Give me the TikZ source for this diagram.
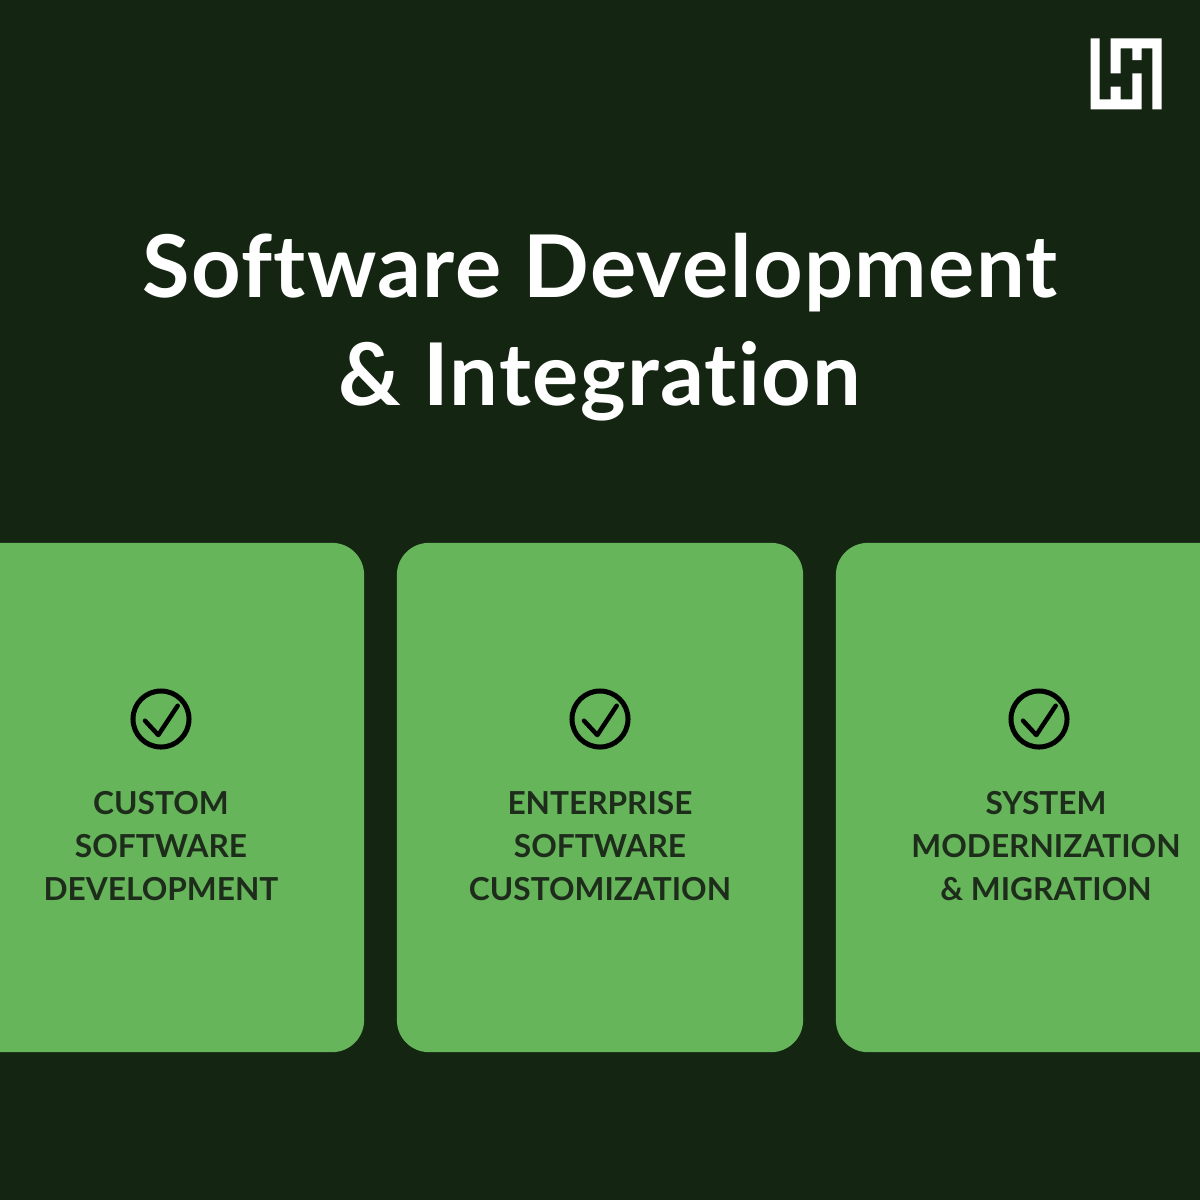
\documentclass[tikz,border=0pt]{standalone}
\usepackage{fontspec}
\setmainfont[Ligatures=NoCommon]{Lato}
\newfontfamily\titlefont[Ligatures=NoCommon,LetterSpace=1.6]{Lato}
\definecolor{bgdark}{HTML}{142612}
\definecolor{cardgreen}{HTML}{66B55A}
\definecolor{labeldark}{HTML}{1E2D1B}
\tikzset{
  card/.style={draw=none, fill=cardgreen, rounded corners=0.32cm, minimum width=4.06cm, minimum height=5.09cm, inner sep=0pt},
  cardlabel/.style={text=labeldark, align=center, font=\fontsize{9.0}{12.1}\selectfont\bfseries},
  titletext/.style={text=white, align=center, font=\titlefont\fontsize{24.6}{30.7}\selectfont\bfseries},
  ring/.style={draw=black, circle, line width=0.05cm, minimum size=0.56cm, inner sep=0pt},
  tick/.style={draw=black, line width=0.045cm, line cap=round, line join=round}
}
\begin{document}
\begin{tikzpicture}[x=0.01cm, y=-0.01cm]

    \useasboundingbox[fill=bgdark] (0, 0) rectangle (1200, 1200);

    \node[titletext] (title) at (600, 327) {Software Development\\\& Integration};

    \node[card] (c0) at (161, 797.5) {};
    \node[card] (c1) at (600, 797.5) {};
    \node[card] (c2) at (1039, 797.5) {};

    \node[ring] (r0) at (161, 719) {};
    \node[ring] (r1) at (600, 719) {};
    \node[ring] (r2) at (1039, 719) {};

    \path[tick] (145, 720.7) -- (158.3, 735) -- (177.7, 705.7);
    \path[tick] (584, 720.7) -- (597.3, 735) -- (616.7, 705.7);
    \path[tick] (1023, 720.7) -- (1036.3, 735) -- (1055.7, 705.7);

    \node[cardlabel] (t0) at (161, 846) {CUSTOM\\SOFTWARE\\DEVELOPMENT};
    \node[cardlabel] (t1) at (600, 846) {ENTERPRISE\\SOFTWARE\\CUSTOMIZATION};
    \node[cardlabel] (t2) at (1046, 846) {SYSTEM\\MODERNIZATION\\\& MIGRATION};

    % logo
    \fill[white] (1090.7, 38.3) -- (1099.7, 38.3) -- (1099.7, 99.3) -- (1110.7, 99.3)
      -- (1110.7, 86.7) -- (1120.7, 86.7) -- (1120.7, 99.3) -- (1132.3, 99.3) -- (1132.3, 73.3) -- (1141.7, 73.3)
      -- (1141.7, 109.3) -- (1090.7, 109.3) -- cycle;
    \fill[white] (1110.7, 38.3) -- (1161.7, 38.3) -- (1161.7, 109.3) -- (1152.3, 109.3) -- (1152.3, 48.3)
      -- (1141.7, 48.3) -- (1141.7, 60) -- (1132.3, 60) -- (1132.3, 48.3) -- (1120.7, 48.3) -- (1120.7, 73.3)
      -- (1110.7, 73.3) -- cycle;

\end{tikzpicture}
\end{document}
